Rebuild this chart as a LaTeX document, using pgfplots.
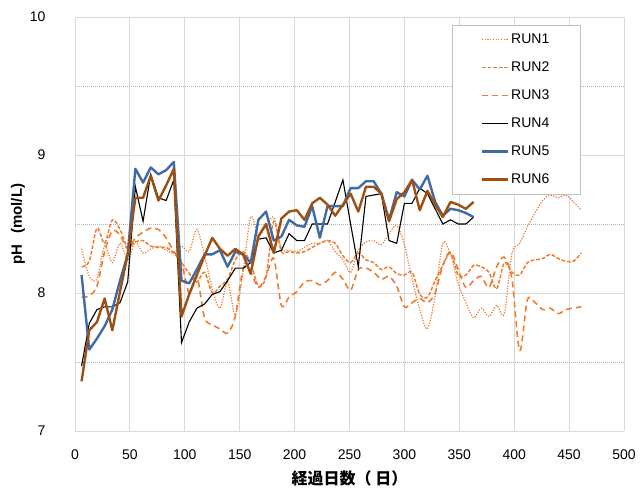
\documentclass[border=0pt]{standalone}
\usepackage{fontspec}
\setmainfont{Liberation Sans}
\newfontfamily\cjk{Noto Sans CJK JP}
\usepackage{pgfplots}
\usepackage{pgfplotstable}
\pgfplotsset{compat=1.18}
\definecolor{orng}{RGB}{237,125,49}
\definecolor{bluel}{RGB}{66,106,164}
\definecolor{brwn}{RGB}{158,80,18}

\pgfplotstableread{
x r1 r2 r3
6 8.32 8.19 7.97
13 8.12 8.23 7.98
20 8.10 8.47 8.05
27 8.34 8.36 8.30
34 8.22 8.53 8.45
41 8.36 8.46 8.42
48 8.24 8.33 8.32
55 8.37 8.37 8.40
62 8.29 8.38 8.44
69 8.32 8.34 8.47
76 8.34 8.33 8.46
83 8.31 8.33 8.40
90 8.29 8.29 8.30
97 8.34 8.22 8.22
104 8.30 8.14 8.00
111 8.46 8.08 8.12
118 8.27 8.15 7.82
125 8.03 8.00 7.77
132 7.89 8.05 7.74
139 8.08 8.10 7.71
146 7.84 8.24 7.83
153 8.15 8.30 8.17
160 8.55 8.22 8.15
167 8.42 8.05 8.04
174 8.48 8.12 8.12
181 8.55 8.52 8.25
188 8.32 8.30 7.91
195 8.31 8.30 7.97
202 8.30 8.29 8.01
209 8.33 8.30 8.08
216 8.36 8.33 8.09
223 8.36 8.36 8.06
230 8.38 8.38 8.09
237 8.30 8.36 8.15
244 8.24 8.27 8.10
251 8.15 8.22 8.02
258 8.31 8.29 8.17
265 8.37 8.24 8.18
272 8.38 8.22 8.15
279 8.35 8.17 8.10
286 8.43 8.19 8.12
293 8.49 8.14 8.05
300 8.35 8.13 7.90
307 8.10 8.15 7.93
314 7.88 7.99 7.96
321 7.74 7.97 7.93
328 7.98 8.09 8.00
335 8.36 8.20 8.20
342 8.28 8.29 8.30
349 8.07 8.13 8.17
356 7.93 8.13 8.04
363 7.82 8.20 8.09
370 7.89 8.19 8.12
377 7.83 8.15 8.04
384 7.91 8.03 8.19
391 7.85 8.22 8.26
398 8.29 8.15 8.10
405 8.36 8.13 7.58
412 8.48 8.22 7.95
419 8.58 8.24 7.93
426 8.67 8.25 7.88
433 8.71 8.28 7.89
440 8.69 8.25 7.85
447 8.71 8.23 7.88
454 8.66 8.23 7.89
461 8.60 8.29 7.90
}\tabA

\pgfplotstableread{
x r4 r5 r6
6 7.47 8.13 7.36
13 7.78 7.59 7.73
20 7.88 7.67 7.79
27 7.90 7.76 7.96
34 7.90 7.88 7.73
41 7.93 8.09 8.01
48 8.08 8.28 8.28
55 8.77 8.90 8.69
62 8.52 8.80 8.69
69 8.86 8.91 8.85
76 8.69 8.86 8.67
83 8.67 8.89 8.78
90 8.82 8.95 8.90
97 7.64 8.09 7.83
104 7.79 8.07 7.99
111 7.89 8.17 8.13
118 7.92 8.28 8.27
125 7.99 8.28 8.40
132 8.01 8.31 8.32
139 8.09 8.19 8.27
146 8.18 8.30 8.32
153 8.18 8.28 8.28
160 8.22 8.22 8.14
167 8.39 8.53 8.41
174 8.40 8.59 8.50
181 8.29 8.38 8.29
188 8.31 8.41 8.54
195 8.43 8.53 8.59
202 8.38 8.49 8.60
209 8.38 8.48 8.53
216 8.50 8.63 8.65
223 8.50 8.40 8.69
230 8.50 8.63 8.64
237 8.66 8.63 8.56
244 8.82 8.63 8.64
251 8.50 8.76 8.72
258 8.19 8.76 8.59
265 8.70 8.81 8.77
272 8.71 8.81 8.77
279 8.72 8.72 8.72
286 8.38 8.53 8.52
293 8.36 8.73 8.68
300 8.65 8.70 8.73
307 8.65 8.82 8.82
314 8.76 8.75 8.60
321 8.72 8.85 8.74
328 8.61 8.66 8.64
335 8.50 8.56 8.55
342 8.53 8.61 8.66
349 8.50 8.60 8.64
356 8.50 8.58 8.61
363 8.55 8.55 8.66
}\tabB

\begin{document}
\begin{tikzpicture}
\path[use as bounding box] (0,0) rectangle (643pt,491pt);
\begin{axis}[
  at={(75pt,60pt)}, anchor=south west,
  scale only axis, width=549pt, height=414pt,
  xmin=0, xmax=500, ymin=7, ymax=10,
  xtick={0,50,...,500}, ytick={7,8,9,10},
  minor ytick={7.5,8.5,9.5},
  xmajorgrids, ymajorgrids, yminorgrids,
  major grid style={draw=black!15, line width=0.9pt},
  minor grid style={draw=black!30, line width=0.6pt, dash pattern=on 1pt off 1pt},
  axis line style={draw=none},
  major tick style={draw=none}, minor tick style={draw=none},
  /pgf/number format/assume math mode=true,
  ticklabel style={font=\fontsize{14}{16}\selectfont},
  xticklabel style={yshift=-15pt},
  yticklabel style={xshift=-26pt},
  xlabel={\cjk\bfseries 経過日数（ 日）},
  ylabel={\bfseries pH\hspace{0.7em}(mol/L)},
  xlabel style={at={(axis description cs:0.5,-0.1135)}, anchor=center, font=\fontsize{16}{18}\selectfont},
  ylabel style={at={(axis description cs:-0.104,0.5)}, anchor=center, font=\fontsize{15}{18}\selectfont},
  legend style={at={(0.686,0.98)}, anchor=north west, draw=black!25, fill=white,
    font=\fontsize{14}{16}\selectfont, inner xsep=29pt, inner ysep=6.5pt, row sep=12.8pt},
  legend cell align=left,
  legend image code/.code={\draw[#1] (0pt,0pt) -- (26pt,0pt);},
  no markers,
]
\addplot[color=orng, line width=1.25pt, dash pattern=on 1.2pt off 1.5pt, smooth] table[x=x,y=r1] {\tabA};
\addlegendentry{RUN1}
\addplot[color=orng, line width=1.5pt, dash pattern=on 3.8pt off 1.8pt, smooth] table[x=x,y=r2] {\tabA};
\addlegendentry{RUN2}
\addplot[color=orng, line width=1.6pt, dash pattern=on 6pt off 4pt, smooth] table[x=x,y=r3] {\tabA};
\addlegendentry{RUN3}
\addplot[black, line width=1.1pt] table[x=x,y=r4] {\tabB};
\addlegendentry{RUN4}
\addplot[bluel, line width=2.4pt, line join=round] table[x=x,y=r5] {\tabB};
\addlegendentry{RUN5}
\addplot[brwn, line width=2.4pt, line join=round] table[x=x,y=r6] {\tabB};
\addlegendentry{RUN6}
\end{axis}
\end{tikzpicture}
\end{document}
